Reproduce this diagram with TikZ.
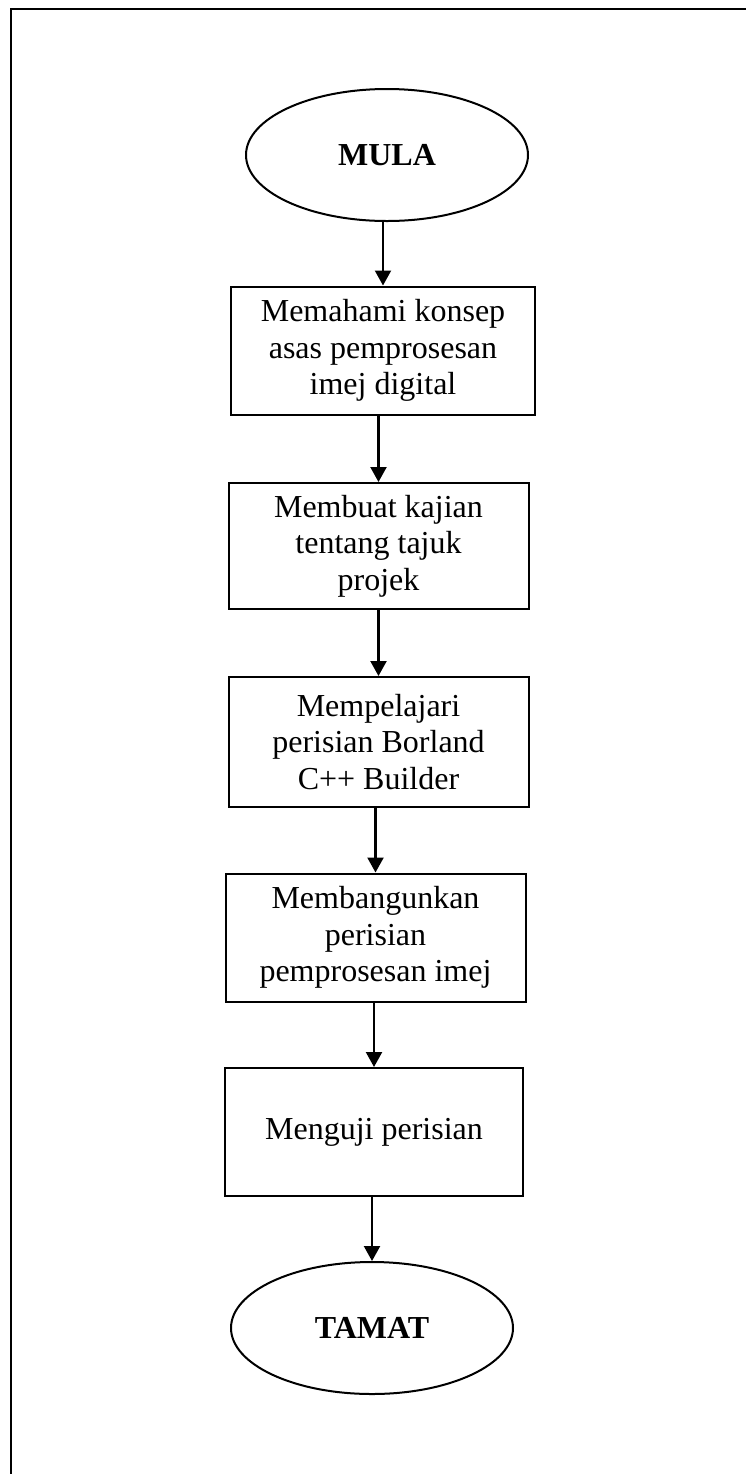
\documentclass[tikz,border=0pt]{standalone}
\usepackage{fontspec}
\setmainfont{Liberation Serif}
\usetikzlibrary{shapes.geometric,arrows.meta}

\begin{document}
\begin{tikzpicture}[x=0.5pt,y=0.5pt]
\tikzstyle{every node}+=[inner sep=0pt]
\tikzstyle{proses}=[draw=black, line width=1pt, align=center, minimum width=150pt, minimum height=64pt, font=\fontsize{16}{18.3}\selectfont]
\tikzstyle{hujung}=[draw=black, line width=1pt, ellipse, minimum width=141pt, minimum height=66pt, font=\fontsize{16}{18.3}\selectfont\bfseries]
\tikzstyle{anak}=[black, line width=1.1pt, -{Triangle[length=7.5pt,width=8pt]}]
\useasboundingbox (0,0) rectangle (746,-1474);
\draw [black, line width=1pt] (11,-1474) -- (11,-9) -- (746,-9);
\node [hujung] (mula) at (387,-155) {MULA};
\node [proses, minimum width=152pt] (b1) at (383,-350.5) {Memahami konsep\\asas pemprosesan\\imej digital};
\node [proses, minimum height=63pt] (b2) at (378.5,-546) {Membuat kajian\\tentang tajuk\\projek};
\node [proses, minimum height=65pt] (b3) at (378.5,-742) {Mempelajari\\perisian Borland\\C++ Builder};
\node [proses] (b4) at (375.5,-937.5) {Membangunkan\\perisian\\pemprosesan imej};
\node [proses, minimum width=149pt] (b5) at (374,-1132) {Menguji perisian};
\node [hujung] (tamat) at (372,-1328) {TAMAT};
\draw [anak] (mula.south -| b1.north) -- (b1.north);
\draw [anak] (b1.south -| b2.north) -- (b2.north);
\draw [anak] (b2.south -| b3.north) -- (b3.north);
\draw [anak] (b3.south -| b4.north) -- (b4.north);
\draw [anak] (b4.south -| b5.north) -- (b5.north);
\draw [anak] (b5.south -| tamat.north) -- (tamat.north);
\end{tikzpicture}
\end{document}
